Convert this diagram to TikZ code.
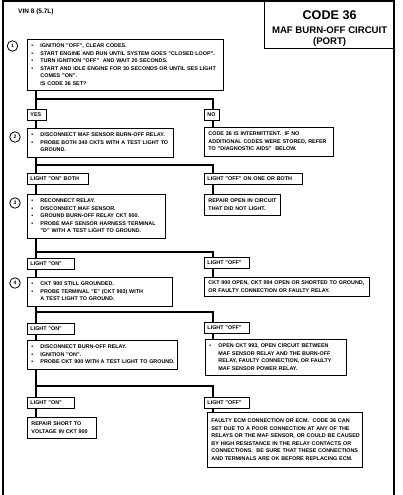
\documentclass[tikz,border=0pt]{standalone}
\usepackage{fontspec}
\setmainfont{Liberation Sans}

\newcommand{\bul}{\textbullet}
\newcommand{\steplines}[1]{\noindent\begin{tabular}{@{}p{9pt}@{}l@{}}#1\end{tabular}}
\newcommand{\plainlines}[1]{\noindent\begin{tabular}{@{}l@{}}#1\end{tabular}}

\tikzset{%
  every box/.style={
    draw,
    line width=0.9pt,
    anchor=north west,
    inner xsep=4pt,
    inner ysep=3pt,
    font=\bfseries\fontsize{5.4}{7.5}\selectfont
  },
  answer box/.style={
    every box,
    inner xsep=3pt,
    inner ysep=0pt,
    text height=4.2pt,
    text depth=1pt,
    minimum height=11pt,
    align=left
  },
  step num/.style={
    circle,
    draw,
    line width=0.8pt,
    minimum size=10.5pt,
    inner sep=0pt,
    font=\bfseries\fontsize{5}{6}\selectfont
  },
  flow/.style={line width=1.8pt},
  frame/.style={line width=1.3pt},
}

\begin{document}
\begin{tikzpicture}[x=1pt, y=-1pt]
\useasboundingbox (0,0) rectangle (402,495);

\draw [frame] (3,495) |- (394,1) -- (394,495);

\node [draw, line width=1.2pt, anchor=north west, minimum width=130pt,
  minimum height=48pt, inner sep=0pt, align=center,
  font=\bfseries\fontsize{9.6}{10.7}\selectfont] (title) at (264,0)
  {{\fontsize{12.6}{14}\selectfont\rule{0pt}{17pt}CODE 36}\\[3.6pt]
   MAF BURN-OFF CIRCUIT\\(PORT)};

\node [anchor=base west, inner sep=0pt,
  font=\bfseries\fontsize{6.5}{7}\selectfont] (vin) at (18,14) {VIN 8 (5.7L)};

% steps on the left
\node [every box, text width=188pt] (step-1) at (27,39) {\steplines{%
  \bul & IGNITION "OFF", CLEAR CODES.\\
  \bul & START ENGINE AND RUN UNTIL SYSTEM GOES "CLOSED LOOP".\\
  \bul & TURN IGNITION "OFF"\ \ AND WAIT 20 SECONDS.\\
  \bul & START AND IDLE ENGINE FOR 30 SECONDS OR UNTIL SES LIGHT\\
       & COMES "ON".\\
       & IS CODE 36 SET?}};

\node [every box, text width=138pt] (step-2) at (27,128) {\steplines{%
  \bul & DISCONNECT MAF SENSOR BURN-OFF RELAY.\\
  \bul & PROBE BOTH 340 CKTS WITH A TEST LIGHT TO\\
       & GROUND.}};

\node [every box, text width=130pt] (step-3) at (27,194) {\steplines{%
  \bul & RECONNECT RELAY.\\
  \bul & DISCONNECT MAF SENSOR.\\
  \bul & GROUND BURN-OFF RELAY CKT 900.\\
  \bul & PROBE MAF SENSOR HARNESS TERMINAL\\
       & "D" WITH A TEST LIGHT TO GROUND.}};

\node [every box, text width=137pt] (step-4) at (27,277) {\steplines{%
  \bul & CKT 900 STILL GROUNDED.\\
  \bul & PROBE TERMINAL "E" (CKT 993) WITH\\
       & A TEST LIGHT TO GROUND.}};

\node [every box, text width=142pt] (step-5) at (27,340) {\steplines{%
  \bul & DISCONNECT BURN-OFF RELAY.\\
  \bul & IGNITION "ON".\\
  \bul & PROBE CKT 900 WITH A TEST LIGHT TO GROUND.}};

\node [every box, text width=61pt] (fix-5) at (27,417) {\plainlines{%
  REPAIR SHORT TO\\
  VOLTAGE IN CKT 900}};

% answers
\node [answer box, text width=13pt] (on-1) at (27,109) {YES};
\node [answer box, text width=55pt] (on-2) at (27,173) {LIGHT "ON" BOTH};
\foreach \n/\y in {3/258, 4/323, 5/397}
  \node [answer box, text width=41pt] (on-\n) at (27,\y) {LIGHT "ON"};

\node [answer box, text width=9pt] (off-1) at (204,109) {NO};
\node [answer box, text width=92pt] (off-2) at (204,173) {LIGHT "OFF" ON ONE OR BOTH};
\foreach \n/\y in {3/257, 4/322, 5/397}
  \node [answer box, text width=39pt] (off-\n) at (204,\y) {LIGHT "OFF"};

% results on the right
\node [every box, text width=121pt] (result-1) at (204,127) {\plainlines{%
  CODE 36 IS INTERMITTENT.\ \ IF NO\\
  ADDITIONAL CODES WERE STORED, REFER\\
  TO "DIAGNOSTIC AIDS"\ \ BELOW.}};

\node [every box, text width=68pt] (result-2) at (204,194) {\plainlines{%
  REPAIR OPEN IN CIRCUIT\\
  THAT DID NOT LIGHT.}};

\node [every box, text width=157pt, inner ysep=2pt] (result-3) at (204,277) {\plainlines{%
  CKT 900 OPEN, CKT 994 OPEN OR SHORTED TO GROUND,\\
  OR FAULTY CONNECTION OR FAULTY RELAY.}};

\node [every box, text width=133pt] (result-4) at (205,339) {\steplines{%
  \bul & OPEN CKT 993, OPEN CIRCUIT BETWEEN\\
       & MAF SENSOR RELAY AND THE BURN-OFF\\
       & RELAY, FAULTY CONNECTION, OR FAULTY\\
       & MAF SENSOR POWER RELAY.}};

\node [every box, text width=147pt, inner ysep=5pt] (result-5) at (207,412) {\plainlines{%
  FAULTY ECM CONNECTION OR ECM.\ \ CODE 36 CAN\\
  SET DUE TO A POOR CONNECTION AT ANY OF THE\\
  RELAYS OR THE MAF SENSOR, OR COULD BE CAUSED\\
  BY HIGH RESISTANCE IN THE RELAY CONTACTS OR\\
  CONNECTIONS.\ \ BE SURE THAT THESE CONNECTIONS\\
  AND TERMINALS ARE OK BEFORE REPLACING ECM.}};

% step numbers
\foreach \n/\x/\y in {1/12.5/46, 2/15/137, 3/15/203, 4/15/283}
  \node [step num] (num-\n) at (\x,\y) {\n};

% connectors
\coordinate (left rail) at (36,0);
\coordinate (right rail) at (213,0);

\foreach \n/\y in {1/99, 2/165, 3/252, 4/312, 5/386} {
  \coordinate (fork-\n) at (36,\y);
  \draw [flow] (step-\n.south -| left rail) -- (on-\n.north -| left rail);
  \draw [flow] (fork-\n) -| (off-\n.north -| right rail);
}

\foreach \n [count=\m from 2] in {1,...,4}
  \draw [flow] (on-\n.south -| left rail) -- (step-\m.north -| left rail);
\draw [flow] (on-5.south -| left rail) -- (fix-5.north -| left rail);

\foreach \n in {1,...,5}
  \draw [flow] (off-\n.south -| right rail) -- (result-\n.north -| right rail);

\end{tikzpicture}
\end{document}
